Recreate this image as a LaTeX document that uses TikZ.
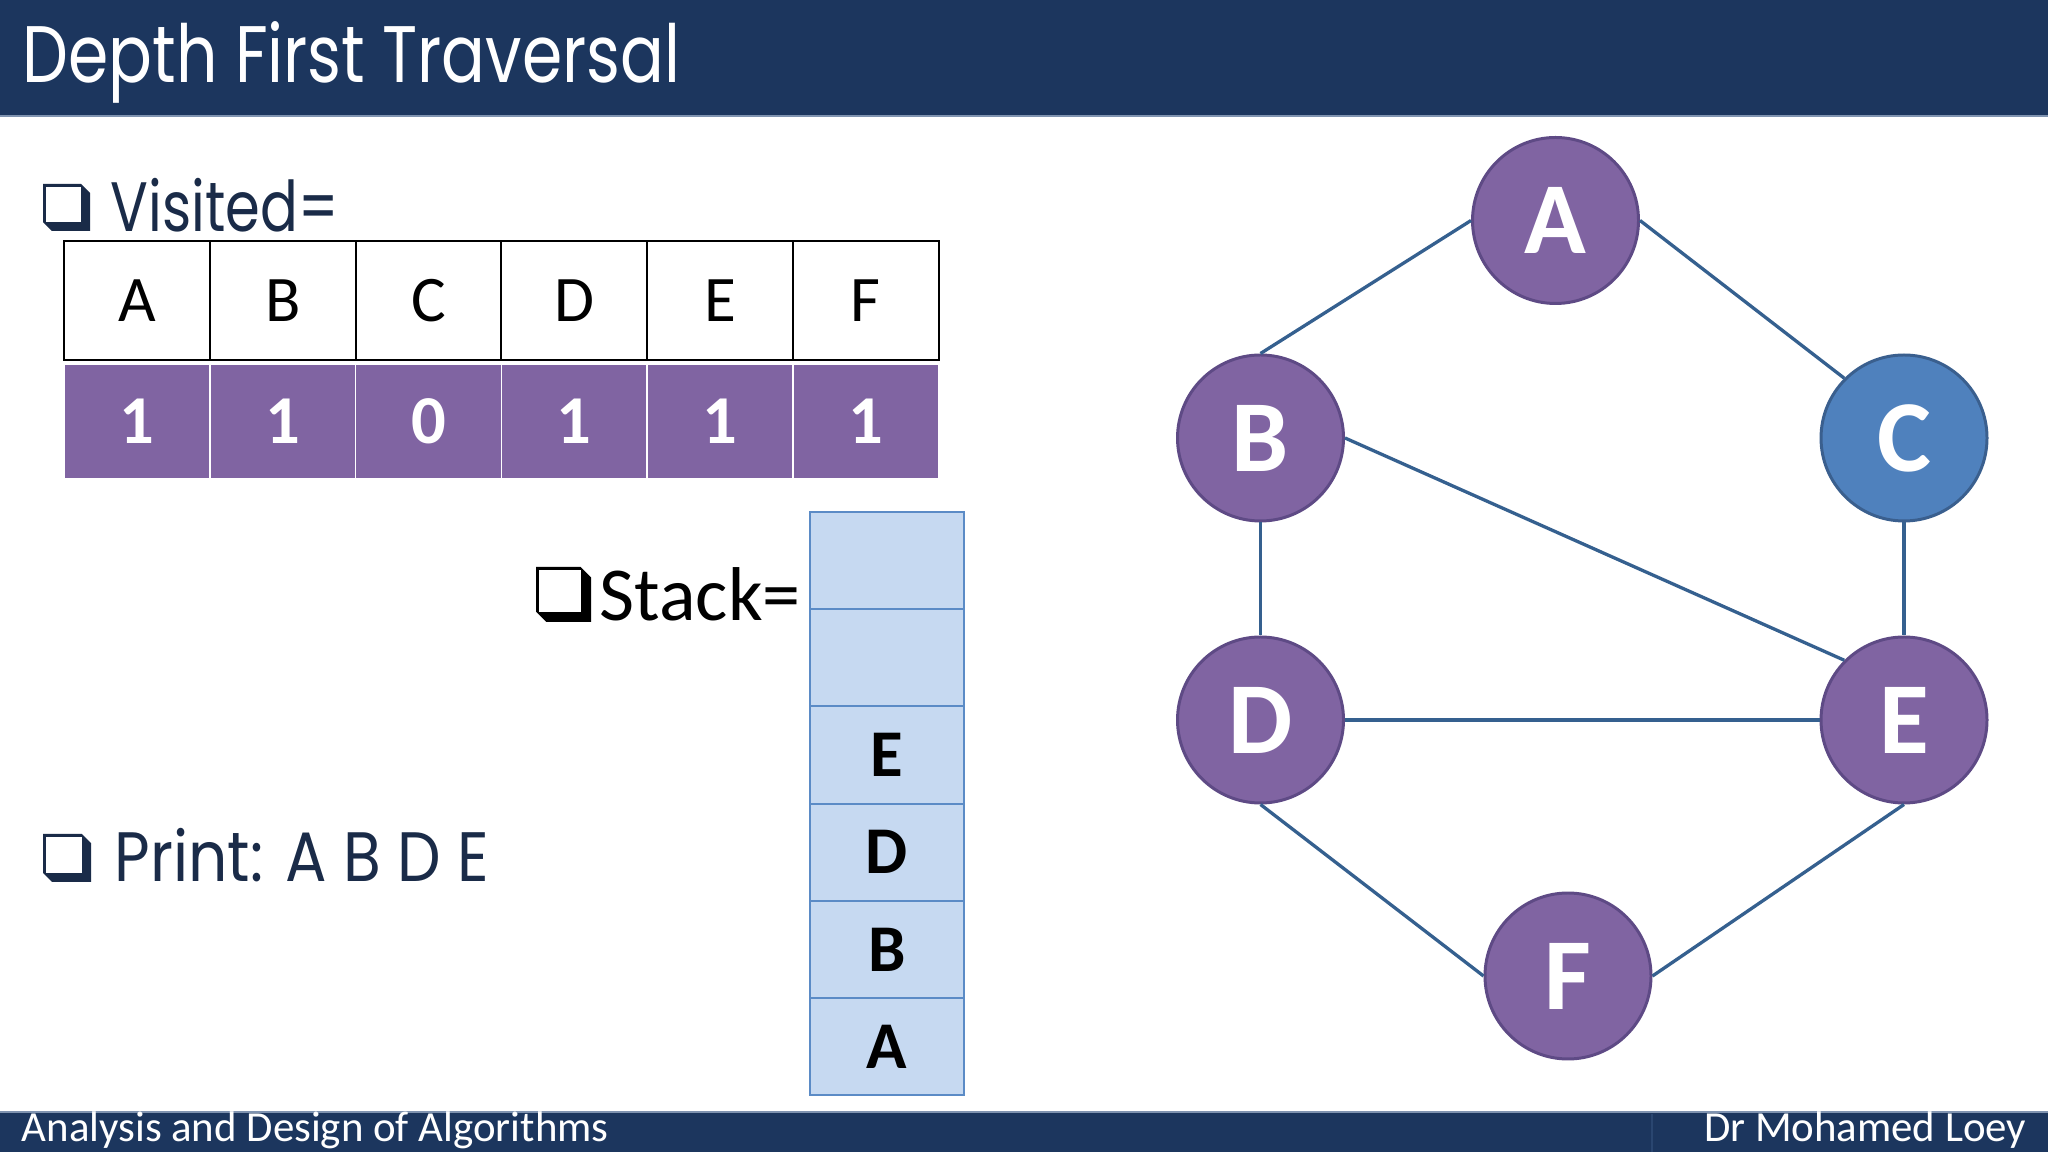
\documentclass[tikz,border=0pt]{standalone}
\usepackage{fontspec}
\setmainfont{Carlito}
\newfontfamily\twc[FakeStretch=0.8]{Poppins}
\definecolor{banner}{HTML}{1C365E}
\definecolor{bannerline}{HTML}{7F93B0}
\definecolor{navy}{HTML}{1A2B48}
\definecolor{vpurple}{HTML}{8064A2}
\definecolor{vpurpleb}{HTML}{5E4A85}
\definecolor{cblue}{HTML}{4F81BD}
\definecolor{cblueb}{HTML}{3A5F8E}
\definecolor{edgec}{HTML}{35608F}
\definecolor{stackf}{HTML}{C6D9F1}
\definecolor{stackb}{HTML}{5B8BC6}
\definecolor{divc}{HTML}{2A4670}
\newcommand\mychk[4]{%
  \fill[#4] (#1,#2) -- ({#1+0.81*#3},#2) -- ({#1+#3},{#2+0.19*#3}) -- ({#1+#3},{#2+#3}) -- ({#1+0.19*#3},{#2+#3}) -- (#1,{#2+0.81*#3}) -- cycle;
  \fill[white] ({#1+0.06*#3},{#2+0.06*#3}) rectangle ({#1+0.81*#3},{#2+0.81*#3});
}
\begin{document}
\begin{tikzpicture}[x=0.1mm,y=-0.1mm,
  tcell/.style={draw=black, line width=0.57pt, minimum width=14.58mm, minimum height=11.9mm, inner sep=0pt, font=\fontsize{18.5pt}{20pt}\selectfont},
  vcell/.style={fill=vpurple, draw=white, line width=0.45pt, minimum width=14.58mm, minimum height=11.5mm, inner sep=0pt, text=white, font=\bfseries\fontsize{19.5pt}{20pt}\selectfont},
  scell/.style={fill=stackf, draw=stackb, line width=0.57pt, minimum width=15.4mm, minimum height=9.72mm, inner sep=0pt, font=\bfseries\fontsize{19pt}{20pt}\selectfont},
  gnode/.style={circle, fill=vpurple, draw=vpurpleb, line width=0.85pt, minimum size=16.6mm, inner sep=0pt, text=white, font=\bfseries\fontsize{29pt}{30pt}\selectfont},
  edge/.style={draw=edgec, line width=0.94pt},
  twtext/.style={anchor=base west, inner sep=0pt, text=navy, font=\twc\fontsize{19.9pt}{21pt}\selectfont},
  foot/.style={inner sep=0pt, text=white, font=\fontsize{12.2pt}{13pt}\selectfont}
]
\useasboundingbox (0,0) rectangle (2048,1152);
\fill[white] (0,0) rectangle (2048,1152);
% title banner
\fill[banner] (0,0) rectangle (2048,117);
\draw[bannerline, line width=0.5pt] (0,116) -- (2048,116);
\node[anchor=base west, inner sep=0pt, text=white, font=\twc\fontsize{22.8pt}{24pt}\selectfont] (title) at (22,83) {\scalebox{1.012}[1]{Depth First Traversal}};
% footer
\fill[banner] (0,1111) rectangle (2048,1152);
\draw[bannerline, line width=0.5pt] (0,1112) -- (2048,1112);
\draw[divc, line width=0.6pt] (1652,1114) -- (1652,1152);
\node[foot, anchor=base west] (course) at (21,1142) {Analysis and Design of Algorithms};
\node[foot, anchor=base east] (author) at (2027,1142) {Dr Mohamed Loey};
% visited
\mychk{43}{184}{47}{navy}
\node[twtext] (visited) at (110,232) {Visited=};
\foreach \l [count=\i from 0] in {A,B,C,D,E,F} {
  \node[tcell] (h\l) at ({64+145.8*(\i+0.5)},300.5) {\l};
}
\foreach \l/\v [count=\i from 0] in {A/1,B/1,C/0,D/1,E/1,F/1} {
  \node[vcell] (v\l) at ({64+145.8*(\i+0.5)},421.5) {\v};
}
% print
\mychk{43}{834}{48}{navy}
\node[twtext] (print) at (114,882) {\scalebox{1.1}[1]{Print: A B D E}};
% stack
\mychk{536}{567}{55}{black}
\node[anchor=base west, inner sep=0pt, font=\fontsize{21.7pt}{23pt}\selectfont] (stacklbl) at (599,621) {Stack=};
\foreach \l [count=\i from 0] in {{},{},E,D,B,A} {
  \node[scell] (s\i) at (887,{512+97.2*(\i+0.5)}) {\l};
}
% graph
\node[gnode] (A) at (1555.5,220.5) {A};
\node[gnode] (B) at (1260.5,438) {B};
\node[gnode, fill=cblue, draw=cblueb] (C) at (1904,438) {C};
\node[gnode] (D) at (1260.5,720) {D};
\node[gnode] (E) at (1904,720) {E};
\node[gnode] (F) at (1568,976) {F};
\draw[edge] (A.west) -- (B.north);
\draw[edge] (A.east) -- (C.north west);
\draw[edge] (B.south) -- (D.north);
\draw[edge] (B.east) -- (E.north west);
\draw[edge] (C.south) -- (E.north);
\draw[edge] (D.east) -- (E.west);
\draw[edge] (D.south) -- (F.west);
\draw[edge] (E.south) -- (F.east);
\end{tikzpicture}
\end{document}
